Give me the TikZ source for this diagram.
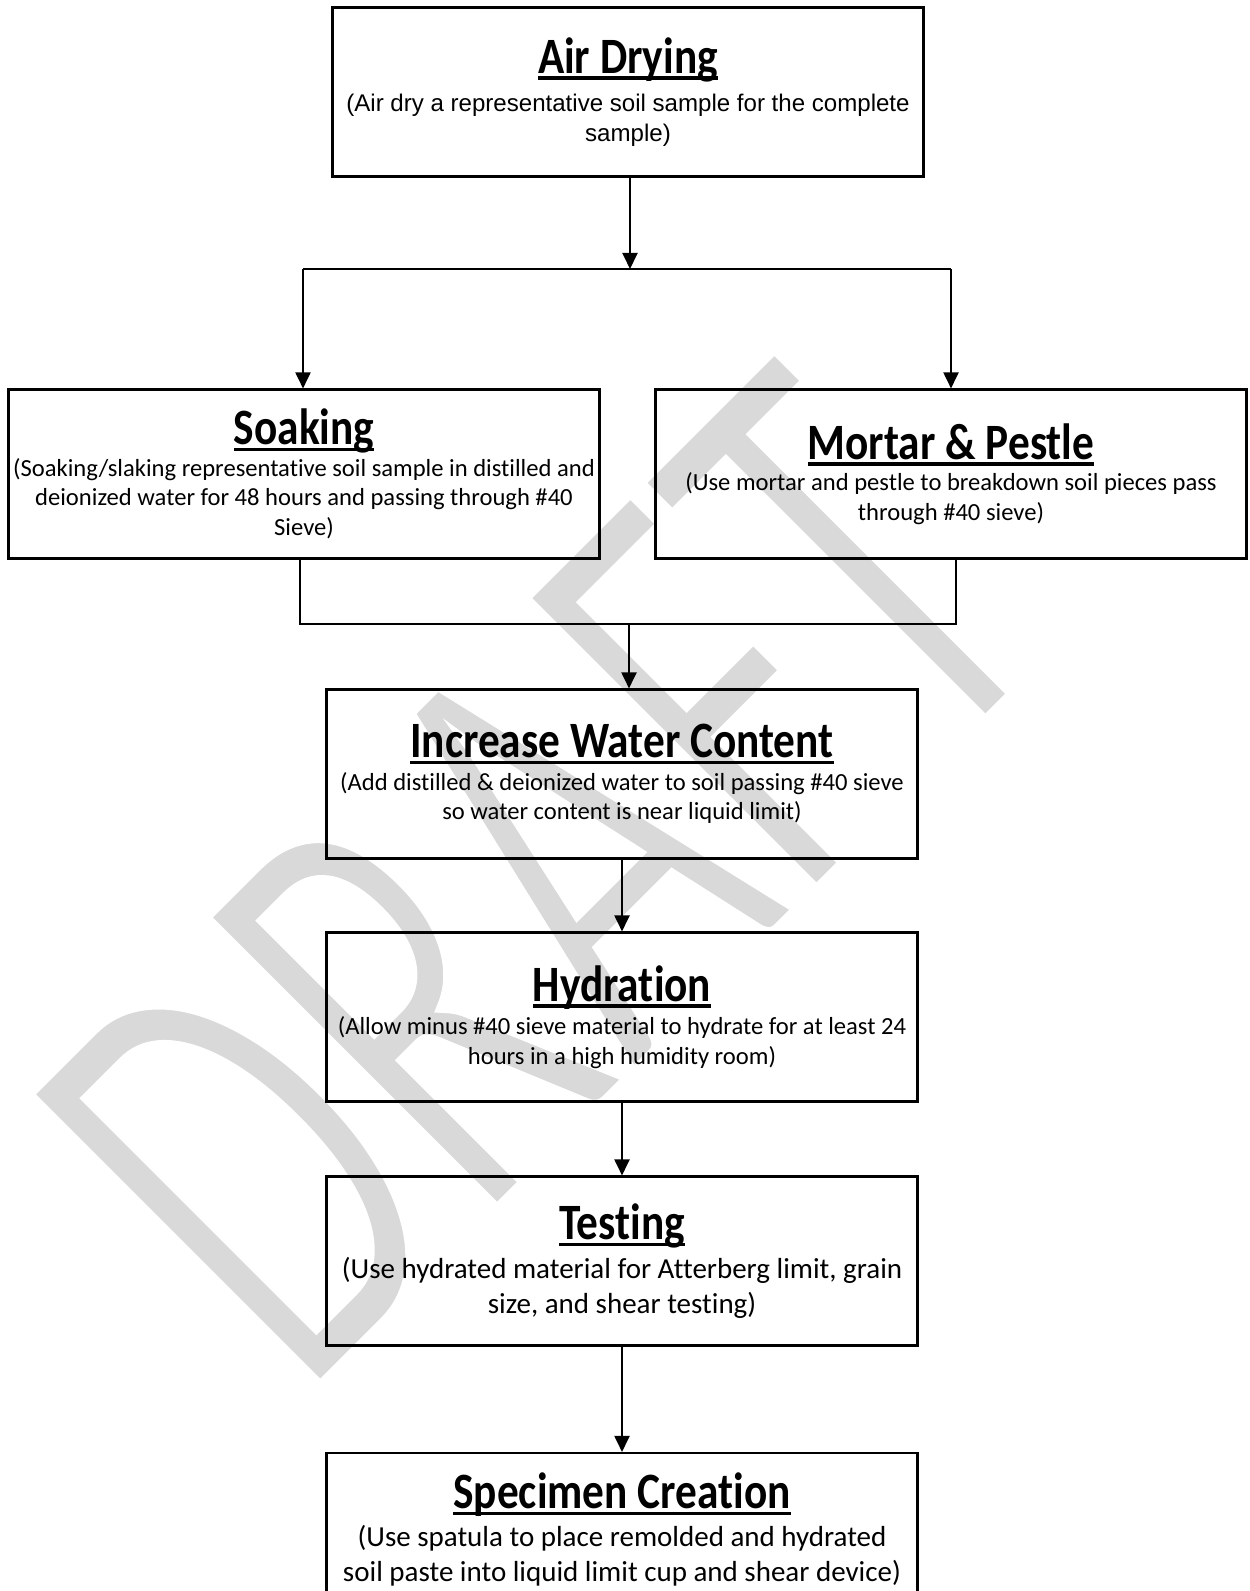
\documentclass[tikz,border=0pt]{standalone}
\usepackage{fontspec}
\setmainfont{Carlito}[Ligatures=NoCommon]
\newfontfamily\arialfont{Liberation Sans}
\usepackage{graphicx}
\usepackage{tikz}
\usetikzlibrary{arrows.meta}
\definecolor{wmgray}{HTML}{D9D9D9}
\newcommand{\bodyfont}{\fontsize{7}{8.4}\selectfont}
\newcommand{\bigbodyfont}{\fontsize{8.25}{9.9}\selectfont}
\newcommand{\arialbody}{\arialfont\fontsize{6.85}{8.54}\selectfont}
\newcommand{\steptitle}[1]{{\rmfamily\fontsize{14.5}{16}\selectfont\bfseries
  \scalebox{0.85}[1]{\setbox0\hbox{#1}\rlap{\rule[-1.85pt]{\wd0}{1pt}}\box0}}}
% thin the watermark letters with a white outline
\newcommand{\thinletters}[1]{\special{pdf:literal direct 2 Tr 1 G 2.3 w}#1\special{pdf:literal direct 0 Tr}}
\tikzset{
  stepbox/.style={draw=black,semithick,minimum width=5.91cm,minimum height=1.69cm,inner sep=0pt,align=center,font=\bodyfont},
  flowline/.style={semithick,black},
  flowarrow/.style={flowline,-{Triangle[length=4.6pt,width=4.3pt]}},
  watermark/.style={text=wmgray,font=\fontsize{115}{120}\selectfont,rotate=45,anchor=base west,inner sep=0pt},
}

\begin{document}
\begin{tikzpicture}
  \useasboundingbox (0,0) rectangle (12.49,-15.91);
  \clip (0,0) rectangle (12.49,-15.91);
  \node[watermark] (nDraft) at (3.02,-14.06) {\scalebox{1}[1.6]{\thinletters{DRAFT}}};
  \node[stepbox,font=\arialbody] (nAir) at (6.28,-0.92) {\steptitle{Air Drying}\\[2.4pt]
    (Air dry a representative soil sample for the complete\\ sample)};
  \node[stepbox] (nSoak) at (3.04,-4.74) {\steptitle{Soaking}\\[0.6pt]
    (Soaking/slaking representative soil sample in distilled and\\
    deionized water for 48 hours and passing through \#40\\ Sieve)};
  \node[stepbox] (nMortar) at (9.51,-4.74) {\steptitle{Mortar \& Pestle}\\[0.6pt]
    (Use mortar and pestle to breakdown soil pieces pass\\ through \#40 sieve)};
  \node[stepbox] (nWater) at (6.22,-7.74) {\steptitle{Increase Water Content}\\[0.8pt]
    (Add distilled \& deionized water to soil passing \#40 sieve\\ so water content is near liquid limit)};
  \node[stepbox] (nHydr) at (6.22,-10.17) {\steptitle{Hydration}\\[1.1pt]
    (Allow minus \#40 sieve material to hydrate for at least 24\\ hours in a high humidity room)};
  \node[stepbox,font=\bigbodyfont] (nTest) at (6.22,-12.61) {\steptitle{Testing}\\[1.1pt]
    (Use hydrated material for Atterberg limit, grain\\ size, and shear testing)};
  \node[stepbox,font=\bigbodyfont,minimum height=1.53cm] (nSpec) at (6.22,-15.295) {\steptitle{Specimen Creation}\\[0.8pt]
    (Use spatula to place remolded and hydrated\\ soil paste into liquid limit cup and shear device)};
  % split and join lines
  \coordinate (cSplit) at (6.30,-2.69);
  \coordinate (cSplitL) at (3.03,-2.69);
  \coordinate (cSplitR) at (9.51,-2.69);
  \coordinate (cJoinL) at (3.00,-6.24);
  \coordinate (cJoinR) at (9.56,-6.24);
  \coordinate (cJoin) at (6.29,-6.24);
  \draw[flowarrow] (nAir.south -| cSplit) -- (cSplit);
  \draw[flowline] (cSplitL) -- (cSplitR);
  \draw[flowarrow] (cSplitL) -- (cSplitL |- nSoak.north);
  \draw[flowarrow] (cSplitR) -- (cSplitR |- nMortar.north);
  \draw[flowline] (cJoinL |- nSoak.south) -- (cJoinL) -- (cJoinR) -- (cJoinR |- nMortar.south);
  \draw[flowarrow] (cJoin) -- (cJoin |- nWater.north);
  \draw[flowarrow] (nWater) -- (nHydr);
  \draw[flowarrow] (nHydr) -- (nTest);
  \draw[flowarrow] (nTest) -- (nSpec);
\end{tikzpicture}
\end{document}
